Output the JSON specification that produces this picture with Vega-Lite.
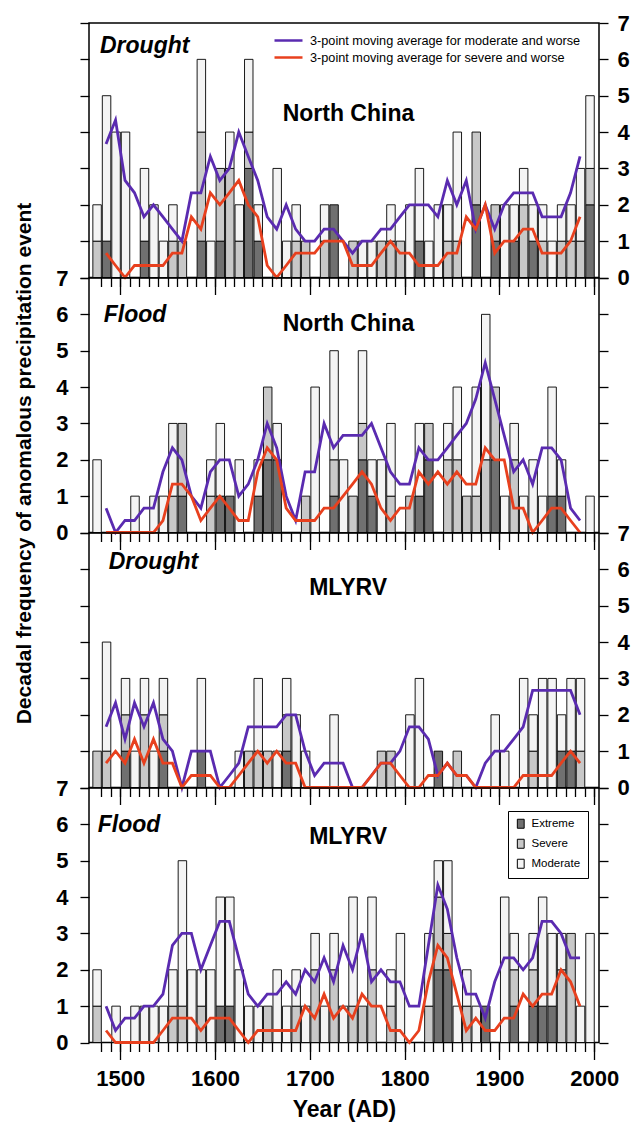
{
"$schema": "https://vega.github.io/schema/vega-lite/v6.json",
"padding": {"left": 12, "top": 11, "right": 3, "bottom": 0},
"spacing": 0,
"bounds": "flush",
"config": {
  "view": {"stroke": "black", "strokeWidth": 1.5},
  "font": "Liberation Sans",
  "axis": {"domain": false, "grid": false, "tickColor": "black", "tickWidth": 1.3, "labelFont": "Liberation Sans", "labelFontWeight": "bold", "labelFontSize": 22, "labelColor": "black", "labelFlush": false, "titleFont": "Liberation Sans", "titleFontWeight": "bold", "titleColor": "black"},
  "legend": {"labelFont": "Liberation Sans", "labelColor": "black"}
},
"resolve": {"scale": {"x": "independent", "y": "independent", "fill": "independent", "stroke": "independent"}, "legend": {"fill": "independent", "stroke": "independent"}},
"datasets": {
"bars": [
{"p":1,"d":1470,"c":"Severe","k":2,"n":1},{"p":1,"d":1470,"c":"Moderate","k":3,"n":1},
{"p":1,"d":1480,"c":"Extreme","k":1,"n":1},{"p":1,"d":1480,"c":"Moderate","k":3,"n":4},
{"p":1,"d":1490,"c":"Moderate","k":3,"n":4},
{"p":1,"d":1500,"c":"Moderate","k":3,"n":4},
{"p":1,"d":1520,"c":"Extreme","k":1,"n":1},{"p":1,"d":1520,"c":"Moderate","k":3,"n":2},
{"p":1,"d":1530,"c":"Moderate","k":3,"n":2},
{"p":1,"d":1540,"c":"Moderate","k":3,"n":1},
{"p":1,"d":1550,"c":"Severe","k":2,"n":1},{"p":1,"d":1550,"c":"Moderate","k":3,"n":1},
{"p":1,"d":1560,"c":"Severe","k":2,"n":1},
{"p":1,"d":1580,"c":"Extreme","k":1,"n":1},{"p":1,"d":1580,"c":"Severe","k":2,"n":3},{"p":1,"d":1580,"c":"Moderate","k":3,"n":2},
{"p":1,"d":1590,"c":"Moderate","k":3,"n":1},
{"p":1,"d":1600,"c":"Extreme","k":1,"n":1},{"p":1,"d":1600,"c":"Severe","k":2,"n":2},
{"p":1,"d":1610,"c":"Severe","k":2,"n":3},{"p":1,"d":1610,"c":"Moderate","k":3,"n":1},
{"p":1,"d":1620,"c":"Severe","k":2,"n":1},{"p":1,"d":1620,"c":"Moderate","k":3,"n":1},
{"p":1,"d":1630,"c":"Extreme","k":1,"n":3},{"p":1,"d":1630,"c":"Severe","k":2,"n":1},{"p":1,"d":1630,"c":"Moderate","k":3,"n":2},
{"p":1,"d":1640,"c":"Extreme","k":1,"n":1},{"p":1,"d":1640,"c":"Moderate","k":3,"n":1},
{"p":1,"d":1660,"c":"Moderate","k":3,"n":3},
{"p":1,"d":1670,"c":"Moderate","k":3,"n":1},
{"p":1,"d":1680,"c":"Severe","k":2,"n":1},{"p":1,"d":1680,"c":"Moderate","k":3,"n":1},
{"p":1,"d":1690,"c":"Severe","k":2,"n":1},
{"p":1,"d":1710,"c":"Severe","k":2,"n":1},{"p":1,"d":1710,"c":"Moderate","k":3,"n":1},
{"p":1,"d":1720,"c":"Extreme","k":1,"n":2},
{"p":1,"d":1740,"c":"Severe","k":2,"n":1},
{"p":1,"d":1750,"c":"Moderate","k":3,"n":1},
{"p":1,"d":1760,"c":"Moderate","k":3,"n":1},
{"p":1,"d":1770,"c":"Severe","k":2,"n":1},
{"p":1,"d":1780,"c":"Severe","k":2,"n":1},{"p":1,"d":1780,"c":"Moderate","k":3,"n":1},
{"p":1,"d":1790,"c":"Severe","k":2,"n":1},
{"p":1,"d":1800,"c":"Moderate","k":3,"n":2},
{"p":1,"d":1810,"c":"Extreme","k":1,"n":1},{"p":1,"d":1810,"c":"Moderate","k":3,"n":2},
{"p":1,"d":1820,"c":"Moderate","k":3,"n":1},
{"p":1,"d":1830,"c":"Moderate","k":3,"n":2},
{"p":1,"d":1840,"c":"Severe","k":2,"n":1},{"p":1,"d":1840,"c":"Moderate","k":3,"n":1},
{"p":1,"d":1850,"c":"Severe","k":2,"n":1},{"p":1,"d":1850,"c":"Moderate","k":3,"n":3},
{"p":1,"d":1870,"c":"Extreme","k":1,"n":2},{"p":1,"d":1870,"c":"Severe","k":2,"n":2},
{"p":1,"d":1890,"c":"Extreme","k":1,"n":1},{"p":1,"d":1890,"c":"Severe","k":2,"n":1},
{"p":1,"d":1900,"c":"Moderate","k":3,"n":2},
{"p":1,"d":1910,"c":"Extreme","k":1,"n":1},{"p":1,"d":1910,"c":"Moderate","k":3,"n":1},
{"p":1,"d":1920,"c":"Severe","k":2,"n":2},{"p":1,"d":1920,"c":"Moderate","k":3,"n":1},
{"p":1,"d":1930,"c":"Extreme","k":1,"n":1},{"p":1,"d":1930,"c":"Moderate","k":3,"n":1},
{"p":1,"d":1940,"c":"Severe","k":2,"n":1},{"p":1,"d":1940,"c":"Moderate","k":3,"n":1},
{"p":1,"d":1950,"c":"Moderate","k":3,"n":1},
{"p":1,"d":1960,"c":"Severe","k":2,"n":1},{"p":1,"d":1960,"c":"Moderate","k":3,"n":1},
{"p":1,"d":1970,"c":"Severe","k":2,"n":1},{"p":1,"d":1970,"c":"Moderate","k":3,"n":1},
{"p":1,"d":1980,"c":"Severe","k":2,"n":1},{"p":1,"d":1980,"c":"Moderate","k":3,"n":2},
{"p":1,"d":1990,"c":"Extreme","k":1,"n":2},{"p":1,"d":1990,"c":"Severe","k":2,"n":1},{"p":1,"d":1990,"c":"Moderate","k":3,"n":2},

{"p":2,"d":1470,"c":"Moderate","k":3,"n":2},
{"p":2,"d":1510,"c":"Moderate","k":3,"n":1},
{"p":2,"d":1530,"c":"Moderate","k":3,"n":1},
{"p":2,"d":1540,"c":"Moderate","k":3,"n":1},
{"p":2,"d":1550,"c":"Severe","k":2,"n":1},{"p":2,"d":1550,"c":"Moderate","k":3,"n":2},
{"p":2,"d":1560,"c":"Extreme","k":1,"n":1},{"p":2,"d":1560,"c":"Severe","k":2,"n":2},
{"p":2,"d":1590,"c":"Severe","k":2,"n":1},{"p":2,"d":1590,"c":"Moderate","k":3,"n":1},
{"p":2,"d":1600,"c":"Extreme","k":1,"n":1},{"p":2,"d":1600,"c":"Moderate","k":3,"n":2},
{"p":2,"d":1610,"c":"Extreme","k":1,"n":1},
{"p":2,"d":1620,"c":"Moderate","k":3,"n":2},
{"p":2,"d":1640,"c":"Extreme","k":1,"n":1},{"p":2,"d":1640,"c":"Moderate","k":3,"n":1},
{"p":2,"d":1650,"c":"Extreme","k":1,"n":2},{"p":2,"d":1650,"c":"Severe","k":2,"n":2},
{"p":2,"d":1660,"c":"Extreme","k":1,"n":2},{"p":2,"d":1660,"c":"Moderate","k":3,"n":1},
{"p":2,"d":1690,"c":"Severe","k":2,"n":1},
{"p":2,"d":1700,"c":"Moderate","k":3,"n":4},
{"p":2,"d":1720,"c":"Extreme","k":1,"n":1},{"p":2,"d":1720,"c":"Severe","k":2,"n":1},{"p":2,"d":1720,"c":"Moderate","k":3,"n":3},
{"p":2,"d":1730,"c":"Moderate","k":3,"n":2},
{"p":2,"d":1740,"c":"Severe","k":2,"n":1},
{"p":2,"d":1750,"c":"Extreme","k":1,"n":2},{"p":2,"d":1750,"c":"Severe","k":2,"n":1},{"p":2,"d":1750,"c":"Moderate","k":3,"n":2},
{"p":2,"d":1760,"c":"Extreme","k":1,"n":1},{"p":2,"d":1760,"c":"Moderate","k":3,"n":1},
{"p":2,"d":1770,"c":"Moderate","k":3,"n":2},
{"p":2,"d":1780,"c":"Severe","k":2,"n":1},{"p":2,"d":1780,"c":"Moderate","k":3,"n":2},
{"p":2,"d":1800,"c":"Severe","k":2,"n":1},
{"p":2,"d":1810,"c":"Extreme","k":1,"n":1},{"p":2,"d":1810,"c":"Moderate","k":3,"n":2},
{"p":2,"d":1820,"c":"Extreme","k":1,"n":2},{"p":2,"d":1820,"c":"Severe","k":2,"n":1},
{"p":2,"d":1840,"c":"Severe","k":2,"n":2},{"p":2,"d":1840,"c":"Moderate","k":3,"n":1},
{"p":2,"d":1850,"c":"Severe","k":2,"n":2},{"p":2,"d":1850,"c":"Moderate","k":3,"n":2},
{"p":2,"d":1860,"c":"Severe","k":2,"n":1},
{"p":2,"d":1870,"c":"Severe","k":2,"n":1},{"p":2,"d":1870,"c":"Moderate","k":3,"n":3},
{"p":2,"d":1880,"c":"Severe","k":2,"n":2},{"p":2,"d":1880,"c":"Moderate","k":3,"n":4},
{"p":2,"d":1890,"c":"Extreme","k":1,"n":2},{"p":2,"d":1890,"c":"Severe","k":2,"n":2},
{"p":2,"d":1900,"c":"Moderate","k":3,"n":1},
{"p":2,"d":1910,"c":"Severe","k":2,"n":2},{"p":2,"d":1910,"c":"Moderate","k":3,"n":1},
{"p":2,"d":1920,"c":"Moderate","k":3,"n":1},
{"p":2,"d":1930,"c":"Moderate","k":3,"n":2},
{"p":2,"d":1940,"c":"Moderate","k":3,"n":1},
{"p":2,"d":1950,"c":"Extreme","k":1,"n":1},{"p":2,"d":1950,"c":"Moderate","k":3,"n":3},
{"p":2,"d":1960,"c":"Extreme","k":1,"n":1},{"p":2,"d":1960,"c":"Moderate","k":3,"n":1},
{"p":2,"d":1990,"c":"Moderate","k":3,"n":1},

{"p":3,"d":1470,"c":"Severe","k":2,"n":1},
{"p":3,"d":1480,"c":"Severe","k":2,"n":1},{"p":3,"d":1480,"c":"Moderate","k":3,"n":3},
{"p":3,"d":1500,"c":"Extreme","k":1,"n":1},{"p":3,"d":1500,"c":"Severe","k":2,"n":1},{"p":3,"d":1500,"c":"Moderate","k":3,"n":1},
{"p":3,"d":1510,"c":"Moderate","k":3,"n":1},
{"p":3,"d":1520,"c":"Severe","k":2,"n":2},{"p":3,"d":1520,"c":"Moderate","k":3,"n":1},
{"p":3,"d":1530,"c":"Moderate","k":3,"n":1},
{"p":3,"d":1540,"c":"Extreme","k":1,"n":1},{"p":3,"d":1540,"c":"Severe","k":2,"n":1},{"p":3,"d":1540,"c":"Moderate","k":3,"n":1},
{"p":3,"d":1580,"c":"Extreme","k":1,"n":1},{"p":3,"d":1580,"c":"Moderate","k":3,"n":2},
{"p":3,"d":1620,"c":"Moderate","k":3,"n":1},
{"p":3,"d":1630,"c":"Severe","k":2,"n":1},
{"p":3,"d":1640,"c":"Severe","k":2,"n":1},{"p":3,"d":1640,"c":"Moderate","k":3,"n":2},
{"p":3,"d":1650,"c":"Severe","k":2,"n":1},
{"p":3,"d":1660,"c":"Moderate","k":3,"n":1},
{"p":3,"d":1670,"c":"Extreme","k":1,"n":1},{"p":3,"d":1670,"c":"Severe","k":2,"n":1},{"p":3,"d":1670,"c":"Moderate","k":3,"n":1},
{"p":3,"d":1680,"c":"Moderate","k":3,"n":2},
{"p":3,"d":1690,"c":"Moderate","k":3,"n":1},
{"p":3,"d":1720,"c":"Moderate","k":3,"n":2},
{"p":3,"d":1770,"c":"Severe","k":2,"n":1},
{"p":3,"d":1780,"c":"Severe","k":2,"n":1},
{"p":3,"d":1800,"c":"Moderate","k":3,"n":2},
{"p":3,"d":1810,"c":"Moderate","k":3,"n":3},
{"p":3,"d":1830,"c":"Extreme","k":1,"n":1},
{"p":3,"d":1850,"c":"Severe","k":2,"n":1},
{"p":3,"d":1890,"c":"Moderate","k":3,"n":2},
{"p":3,"d":1900,"c":"Moderate","k":3,"n":1},
{"p":3,"d":1920,"c":"Moderate","k":3,"n":3},
{"p":3,"d":1930,"c":"Severe","k":2,"n":1},{"p":3,"d":1930,"c":"Moderate","k":3,"n":1},
{"p":3,"d":1940,"c":"Moderate","k":3,"n":3},
{"p":3,"d":1950,"c":"Moderate","k":3,"n":3},
{"p":3,"d":1960,"c":"Extreme","k":1,"n":1},{"p":3,"d":1960,"c":"Moderate","k":3,"n":1},
{"p":3,"d":1970,"c":"Extreme","k":1,"n":1},{"p":3,"d":1970,"c":"Moderate","k":3,"n":2},
{"p":3,"d":1980,"c":"Severe","k":2,"n":1},{"p":3,"d":1980,"c":"Moderate","k":3,"n":2},

{"p":4,"d":1470,"c":"Severe","k":2,"n":1},{"p":4,"d":1470,"c":"Moderate","k":3,"n":1},
{"p":4,"d":1490,"c":"Moderate","k":3,"n":1},
{"p":4,"d":1510,"c":"Moderate","k":3,"n":1},
{"p":4,"d":1520,"c":"Moderate","k":3,"n":1},
{"p":4,"d":1530,"c":"Moderate","k":3,"n":1},
{"p":4,"d":1540,"c":"Moderate","k":3,"n":1},
{"p":4,"d":1550,"c":"Severe","k":2,"n":1},{"p":4,"d":1550,"c":"Moderate","k":3,"n":1},
{"p":4,"d":1560,"c":"Severe","k":2,"n":1},{"p":4,"d":1560,"c":"Moderate","k":3,"n":4},
{"p":4,"d":1570,"c":"Moderate","k":3,"n":2},
{"p":4,"d":1580,"c":"Severe","k":2,"n":1},{"p":4,"d":1580,"c":"Moderate","k":3,"n":1},
{"p":4,"d":1590,"c":"Moderate","k":3,"n":2},
{"p":4,"d":1600,"c":"Extreme","k":1,"n":1},{"p":4,"d":1600,"c":"Moderate","k":3,"n":3},
{"p":4,"d":1610,"c":"Extreme","k":1,"n":1},{"p":4,"d":1610,"c":"Moderate","k":3,"n":3},
{"p":4,"d":1620,"c":"Moderate","k":3,"n":2},
{"p":4,"d":1630,"c":"Moderate","k":3,"n":1},
{"p":4,"d":1640,"c":"Moderate","k":3,"n":1},
{"p":4,"d":1650,"c":"Severe","k":2,"n":1},
{"p":4,"d":1660,"c":"Moderate","k":3,"n":2},
{"p":4,"d":1670,"c":"Moderate","k":3,"n":1},
{"p":4,"d":1680,"c":"Severe","k":2,"n":1},{"p":4,"d":1680,"c":"Moderate","k":3,"n":1},
{"p":4,"d":1690,"c":"Moderate","k":3,"n":1},
{"p":4,"d":1700,"c":"Severe","k":2,"n":2},{"p":4,"d":1700,"c":"Moderate","k":3,"n":1},
{"p":4,"d":1710,"c":"Moderate","k":3,"n":1},
{"p":4,"d":1720,"c":"Severe","k":2,"n":2},{"p":4,"d":1720,"c":"Moderate","k":3,"n":1},
{"p":4,"d":1730,"c":"Moderate","k":3,"n":1},
{"p":4,"d":1740,"c":"Severe","k":2,"n":1},{"p":4,"d":1740,"c":"Moderate","k":3,"n":3},
{"p":4,"d":1750,"c":"Severe","k":2,"n":1},
{"p":4,"d":1760,"c":"Severe","k":2,"n":2},{"p":4,"d":1760,"c":"Moderate","k":3,"n":2},
{"p":4,"d":1780,"c":"Severe","k":2,"n":1},{"p":4,"d":1780,"c":"Moderate","k":3,"n":1},
{"p":4,"d":1790,"c":"Moderate","k":3,"n":3},
{"p":4,"d":1820,"c":"Severe","k":2,"n":1},{"p":4,"d":1820,"c":"Moderate","k":3,"n":2},
{"p":4,"d":1830,"c":"Extreme","k":1,"n":2},{"p":4,"d":1830,"c":"Severe","k":2,"n":2},{"p":4,"d":1830,"c":"Moderate","k":3,"n":1},
{"p":4,"d":1840,"c":"Extreme","k":1,"n":2},{"p":4,"d":1840,"c":"Severe","k":2,"n":1},{"p":4,"d":1840,"c":"Moderate","k":3,"n":2},
{"p":4,"d":1850,"c":"Moderate","k":3,"n":1},
{"p":4,"d":1860,"c":"Severe","k":2,"n":1},{"p":4,"d":1860,"c":"Moderate","k":3,"n":1},
{"p":4,"d":1870,"c":"Moderate","k":3,"n":1},
{"p":4,"d":1880,"c":"Extreme","k":1,"n":1},
{"p":4,"d":1900,"c":"Moderate","k":3,"n":4},
{"p":4,"d":1910,"c":"Extreme","k":1,"n":1},{"p":4,"d":1910,"c":"Severe","k":2,"n":1},{"p":4,"d":1910,"c":"Moderate","k":3,"n":1},
{"p":4,"d":1930,"c":"Extreme","k":1,"n":1},{"p":4,"d":1930,"c":"Severe","k":2,"n":1},{"p":4,"d":1930,"c":"Moderate","k":3,"n":1},
{"p":4,"d":1940,"c":"Extreme","k":1,"n":1},{"p":4,"d":1940,"c":"Moderate","k":3,"n":3},
{"p":4,"d":1950,"c":"Extreme","k":1,"n":1},{"p":4,"d":1950,"c":"Moderate","k":3,"n":2},
{"p":4,"d":1960,"c":"Severe","k":2,"n":2},{"p":4,"d":1960,"c":"Moderate","k":3,"n":1},
{"p":4,"d":1970,"c":"Severe","k":2,"n":3},
{"p":4,"d":1980,"c":"Moderate","k":3,"n":1},
{"p":4,"d":1990,"c":"Moderate","k":3,"n":3}
],
"lines": [
{"p":1,"t":"m","d":1485,"v":3.67},{"p":1,"t":"m","d":1495,"v":4.33},{"p":1,"t":"m","d":1505,"v":2.67},{"p":1,"t":"m","d":1515,"v":2.33},{"p":1,"t":"m","d":1525,"v":1.67},{"p":1,"t":"m","d":1535,"v":2.0},{"p":1,"t":"m","d":1545,"v":1.67},{"p":1,"t":"m","d":1555,"v":1.33},{"p":1,"t":"m","d":1565,"v":1.0},{"p":1,"t":"m","d":1575,"v":2.33},{"p":1,"t":"m","d":1585,"v":2.33},{"p":1,"t":"m","d":1595,"v":3.33},{"p":1,"t":"m","d":1605,"v":2.67},{"p":1,"t":"m","d":1615,"v":3.0},{"p":1,"t":"m","d":1625,"v":4.0},{"p":1,"t":"m","d":1635,"v":3.33},{"p":1,"t":"m","d":1645,"v":2.67},{"p":1,"t":"m","d":1655,"v":1.67},{"p":1,"t":"m","d":1665,"v":1.33},{"p":1,"t":"m","d":1675,"v":2.0},{"p":1,"t":"m","d":1685,"v":1.33},{"p":1,"t":"m","d":1695,"v":1.0},{"p":1,"t":"m","d":1705,"v":1.0},{"p":1,"t":"m","d":1715,"v":1.33},{"p":1,"t":"m","d":1725,"v":1.33},{"p":1,"t":"m","d":1735,"v":1.0},{"p":1,"t":"m","d":1745,"v":0.67},{"p":1,"t":"m","d":1755,"v":1.0},{"p":1,"t":"m","d":1765,"v":1.0},{"p":1,"t":"m","d":1775,"v":1.33},{"p":1,"t":"m","d":1785,"v":1.33},{"p":1,"t":"m","d":1795,"v":1.67},{"p":1,"t":"m","d":1805,"v":2.0},{"p":1,"t":"m","d":1815,"v":2.0},{"p":1,"t":"m","d":1825,"v":2.0},{"p":1,"t":"m","d":1835,"v":1.67},{"p":1,"t":"m","d":1845,"v":2.67},{"p":1,"t":"m","d":1855,"v":2.0},{"p":1,"t":"m","d":1865,"v":2.67},{"p":1,"t":"m","d":1875,"v":1.33},{"p":1,"t":"m","d":1885,"v":2.0},{"p":1,"t":"m","d":1895,"v":1.33},{"p":1,"t":"m","d":1905,"v":2.0},{"p":1,"t":"m","d":1915,"v":2.33},{"p":1,"t":"m","d":1925,"v":2.33},{"p":1,"t":"m","d":1935,"v":2.33},{"p":1,"t":"m","d":1945,"v":1.67},{"p":1,"t":"m","d":1955,"v":1.67},{"p":1,"t":"m","d":1965,"v":1.67},{"p":1,"t":"m","d":1975,"v":2.33},{"p":1,"t":"m","d":1985,"v":3.33},
{"p":1,"t":"s","d":1485,"v":0.67},{"p":1,"t":"s","d":1495,"v":0.33},{"p":1,"t":"s","d":1505,"v":0},{"p":1,"t":"s","d":1515,"v":0.33},{"p":1,"t":"s","d":1525,"v":0.33},{"p":1,"t":"s","d":1535,"v":0.33},{"p":1,"t":"s","d":1545,"v":0.33},{"p":1,"t":"s","d":1555,"v":0.67},{"p":1,"t":"s","d":1565,"v":0.67},{"p":1,"t":"s","d":1575,"v":1.67},{"p":1,"t":"s","d":1585,"v":1.33},{"p":1,"t":"s","d":1595,"v":2.33},{"p":1,"t":"s","d":1605,"v":2.0},{"p":1,"t":"s","d":1615,"v":2.33},{"p":1,"t":"s","d":1625,"v":2.67},{"p":1,"t":"s","d":1635,"v":2.0},{"p":1,"t":"s","d":1645,"v":1.67},{"p":1,"t":"s","d":1655,"v":0.33},{"p":1,"t":"s","d":1665,"v":0},{"p":1,"t":"s","d":1675,"v":0.33},{"p":1,"t":"s","d":1685,"v":0.67},{"p":1,"t":"s","d":1695,"v":0.67},{"p":1,"t":"s","d":1705,"v":0.67},{"p":1,"t":"s","d":1715,"v":1.0},{"p":1,"t":"s","d":1725,"v":1.0},{"p":1,"t":"s","d":1735,"v":1.0},{"p":1,"t":"s","d":1745,"v":0.33},{"p":1,"t":"s","d":1755,"v":0.33},{"p":1,"t":"s","d":1765,"v":0.33},{"p":1,"t":"s","d":1775,"v":0.67},{"p":1,"t":"s","d":1785,"v":1.0},{"p":1,"t":"s","d":1795,"v":0.67},{"p":1,"t":"s","d":1805,"v":0.67},{"p":1,"t":"s","d":1815,"v":0.33},{"p":1,"t":"s","d":1825,"v":0.33},{"p":1,"t":"s","d":1835,"v":0.33},{"p":1,"t":"s","d":1845,"v":0.67},{"p":1,"t":"s","d":1855,"v":0.67},{"p":1,"t":"s","d":1865,"v":1.67},{"p":1,"t":"s","d":1875,"v":1.33},{"p":1,"t":"s","d":1885,"v":2.0},{"p":1,"t":"s","d":1895,"v":0.67},{"p":1,"t":"s","d":1905,"v":1.0},{"p":1,"t":"s","d":1915,"v":1.0},{"p":1,"t":"s","d":1925,"v":1.33},{"p":1,"t":"s","d":1935,"v":1.33},{"p":1,"t":"s","d":1945,"v":0.67},{"p":1,"t":"s","d":1955,"v":0.67},{"p":1,"t":"s","d":1965,"v":0.67},{"p":1,"t":"s","d":1975,"v":1.0},{"p":1,"t":"s","d":1985,"v":1.67},
{"p":2,"t":"m","d":1485,"v":0.67},{"p":2,"t":"m","d":1495,"v":0},{"p":2,"t":"m","d":1505,"v":0.33},{"p":2,"t":"m","d":1515,"v":0.33},{"p":2,"t":"m","d":1525,"v":0.67},{"p":2,"t":"m","d":1535,"v":0.67},{"p":2,"t":"m","d":1545,"v":1.67},{"p":2,"t":"m","d":1555,"v":2.33},{"p":2,"t":"m","d":1565,"v":2.0},{"p":2,"t":"m","d":1575,"v":1.0},{"p":2,"t":"m","d":1585,"v":0.67},{"p":2,"t":"m","d":1595,"v":1.67},{"p":2,"t":"m","d":1605,"v":2.0},{"p":2,"t":"m","d":1615,"v":2.0},{"p":2,"t":"m","d":1625,"v":1.0},{"p":2,"t":"m","d":1635,"v":1.33},{"p":2,"t":"m","d":1645,"v":2.0},{"p":2,"t":"m","d":1655,"v":3.0},{"p":2,"t":"m","d":1665,"v":2.33},{"p":2,"t":"m","d":1675,"v":1.0},{"p":2,"t":"m","d":1685,"v":0.33},{"p":2,"t":"m","d":1695,"v":1.67},{"p":2,"t":"m","d":1705,"v":1.67},{"p":2,"t":"m","d":1715,"v":3.0},{"p":2,"t":"m","d":1725,"v":2.33},{"p":2,"t":"m","d":1735,"v":2.67},{"p":2,"t":"m","d":1745,"v":2.67},{"p":2,"t":"m","d":1755,"v":2.67},{"p":2,"t":"m","d":1765,"v":3.0},{"p":2,"t":"m","d":1775,"v":2.33},{"p":2,"t":"m","d":1785,"v":1.67},{"p":2,"t":"m","d":1795,"v":1.33},{"p":2,"t":"m","d":1805,"v":1.33},{"p":2,"t":"m","d":1815,"v":2.33},{"p":2,"t":"m","d":1825,"v":2.0},{"p":2,"t":"m","d":1835,"v":2.0},{"p":2,"t":"m","d":1845,"v":2.33},{"p":2,"t":"m","d":1855,"v":2.67},{"p":2,"t":"m","d":1865,"v":3.0},{"p":2,"t":"m","d":1875,"v":3.67},{"p":2,"t":"m","d":1885,"v":4.67},{"p":2,"t":"m","d":1895,"v":3.67},{"p":2,"t":"m","d":1905,"v":2.67},{"p":2,"t":"m","d":1915,"v":1.67},{"p":2,"t":"m","d":1925,"v":2.0},{"p":2,"t":"m","d":1935,"v":1.33},{"p":2,"t":"m","d":1945,"v":2.33},{"p":2,"t":"m","d":1955,"v":2.33},{"p":2,"t":"m","d":1965,"v":2.0},{"p":2,"t":"m","d":1975,"v":0.67},{"p":2,"t":"m","d":1985,"v":0.33},
{"p":2,"t":"s","d":1485,"v":0},{"p":2,"t":"s","d":1495,"v":0},{"p":2,"t":"s","d":1505,"v":0},{"p":2,"t":"s","d":1515,"v":0},{"p":2,"t":"s","d":1525,"v":0},{"p":2,"t":"s","d":1535,"v":0},{"p":2,"t":"s","d":1545,"v":0.33},{"p":2,"t":"s","d":1555,"v":1.33},{"p":2,"t":"s","d":1565,"v":1.33},{"p":2,"t":"s","d":1575,"v":1.0},{"p":2,"t":"s","d":1585,"v":0.33},{"p":2,"t":"s","d":1595,"v":0.67},{"p":2,"t":"s","d":1605,"v":1.0},{"p":2,"t":"s","d":1615,"v":0.67},{"p":2,"t":"s","d":1625,"v":0.33},{"p":2,"t":"s","d":1635,"v":0.33},{"p":2,"t":"s","d":1645,"v":1.67},{"p":2,"t":"s","d":1655,"v":2.33},{"p":2,"t":"s","d":1665,"v":2.0},{"p":2,"t":"s","d":1675,"v":0.67},{"p":2,"t":"s","d":1685,"v":0.33},{"p":2,"t":"s","d":1695,"v":0.33},{"p":2,"t":"s","d":1705,"v":0.33},{"p":2,"t":"s","d":1715,"v":0.67},{"p":2,"t":"s","d":1725,"v":0.67},{"p":2,"t":"s","d":1735,"v":1.0},{"p":2,"t":"s","d":1745,"v":1.33},{"p":2,"t":"s","d":1755,"v":1.67},{"p":2,"t":"s","d":1765,"v":1.33},{"p":2,"t":"s","d":1775,"v":0.67},{"p":2,"t":"s","d":1785,"v":0.33},{"p":2,"t":"s","d":1795,"v":0.67},{"p":2,"t":"s","d":1805,"v":0.67},{"p":2,"t":"s","d":1815,"v":1.67},{"p":2,"t":"s","d":1825,"v":1.33},{"p":2,"t":"s","d":1835,"v":1.67},{"p":2,"t":"s","d":1845,"v":1.33},{"p":2,"t":"s","d":1855,"v":1.67},{"p":2,"t":"s","d":1865,"v":1.33},{"p":2,"t":"s","d":1875,"v":1.33},{"p":2,"t":"s","d":1885,"v":2.33},{"p":2,"t":"s","d":1895,"v":2.0},{"p":2,"t":"s","d":1905,"v":2.0},{"p":2,"t":"s","d":1915,"v":0.67},{"p":2,"t":"s","d":1925,"v":0.67},{"p":2,"t":"s","d":1935,"v":0},{"p":2,"t":"s","d":1945,"v":0.33},{"p":2,"t":"s","d":1955,"v":0.67},{"p":2,"t":"s","d":1965,"v":0.67},{"p":2,"t":"s","d":1975,"v":0.33},{"p":2,"t":"s","d":1985,"v":0},
{"p":3,"t":"m","d":1485,"v":1.67},{"p":3,"t":"m","d":1495,"v":2.33},{"p":3,"t":"m","d":1505,"v":1.33},{"p":3,"t":"m","d":1515,"v":2.33},{"p":3,"t":"m","d":1525,"v":1.67},{"p":3,"t":"m","d":1535,"v":2.33},{"p":3,"t":"m","d":1545,"v":1.33},{"p":3,"t":"m","d":1555,"v":1.0},{"p":3,"t":"m","d":1565,"v":0},{"p":3,"t":"m","d":1575,"v":1.0},{"p":3,"t":"m","d":1585,"v":1.0},{"p":3,"t":"m","d":1595,"v":1.0},{"p":3,"t":"m","d":1605,"v":0},{"p":3,"t":"m","d":1615,"v":0.33},{"p":3,"t":"m","d":1625,"v":0.67},{"p":3,"t":"m","d":1635,"v":1.67},{"p":3,"t":"m","d":1645,"v":1.67},{"p":3,"t":"m","d":1655,"v":1.67},{"p":3,"t":"m","d":1665,"v":1.67},{"p":3,"t":"m","d":1675,"v":2.0},{"p":3,"t":"m","d":1685,"v":2.0},{"p":3,"t":"m","d":1695,"v":1.0},{"p":3,"t":"m","d":1705,"v":0.33},{"p":3,"t":"m","d":1715,"v":0.67},{"p":3,"t":"m","d":1725,"v":0.67},{"p":3,"t":"m","d":1735,"v":0.67},{"p":3,"t":"m","d":1745,"v":0},{"p":3,"t":"m","d":1755,"v":0},{"p":3,"t":"m","d":1765,"v":0.33},{"p":3,"t":"m","d":1775,"v":0.67},{"p":3,"t":"m","d":1785,"v":0.67},{"p":3,"t":"m","d":1795,"v":1.0},{"p":3,"t":"m","d":1805,"v":1.67},{"p":3,"t":"m","d":1815,"v":1.67},{"p":3,"t":"m","d":1825,"v":1.33},{"p":3,"t":"m","d":1835,"v":0.33},{"p":3,"t":"m","d":1845,"v":0.67},{"p":3,"t":"m","d":1855,"v":0.33},{"p":3,"t":"m","d":1865,"v":0.33},{"p":3,"t":"m","d":1875,"v":0},{"p":3,"t":"m","d":1885,"v":0.67},{"p":3,"t":"m","d":1895,"v":1.0},{"p":3,"t":"m","d":1905,"v":1.0},{"p":3,"t":"m","d":1915,"v":1.33},{"p":3,"t":"m","d":1925,"v":1.67},{"p":3,"t":"m","d":1935,"v":2.67},{"p":3,"t":"m","d":1945,"v":2.67},{"p":3,"t":"m","d":1955,"v":2.67},{"p":3,"t":"m","d":1965,"v":2.67},{"p":3,"t":"m","d":1975,"v":2.67},{"p":3,"t":"m","d":1985,"v":2.0},
{"p":3,"t":"s","d":1485,"v":0.67},{"p":3,"t":"s","d":1495,"v":1.0},{"p":3,"t":"s","d":1505,"v":0.67},{"p":3,"t":"s","d":1515,"v":1.33},{"p":3,"t":"s","d":1525,"v":0.67},{"p":3,"t":"s","d":1535,"v":1.33},{"p":3,"t":"s","d":1545,"v":0.67},{"p":3,"t":"s","d":1555,"v":0.67},{"p":3,"t":"s","d":1565,"v":0},{"p":3,"t":"s","d":1575,"v":0.33},{"p":3,"t":"s","d":1585,"v":0.33},{"p":3,"t":"s","d":1595,"v":0.33},{"p":3,"t":"s","d":1605,"v":0},{"p":3,"t":"s","d":1615,"v":0},{"p":3,"t":"s","d":1625,"v":0.33},{"p":3,"t":"s","d":1635,"v":0.67},{"p":3,"t":"s","d":1645,"v":1.0},{"p":3,"t":"s","d":1655,"v":0.67},{"p":3,"t":"s","d":1665,"v":1.0},{"p":3,"t":"s","d":1675,"v":0.67},{"p":3,"t":"s","d":1685,"v":0.67},{"p":3,"t":"s","d":1695,"v":0},{"p":3,"t":"s","d":1705,"v":0},{"p":3,"t":"s","d":1715,"v":0},{"p":3,"t":"s","d":1725,"v":0},{"p":3,"t":"s","d":1735,"v":0},{"p":3,"t":"s","d":1745,"v":0},{"p":3,"t":"s","d":1755,"v":0},{"p":3,"t":"s","d":1765,"v":0.33},{"p":3,"t":"s","d":1775,"v":0.67},{"p":3,"t":"s","d":1785,"v":0.67},{"p":3,"t":"s","d":1795,"v":0.33},{"p":3,"t":"s","d":1805,"v":0},{"p":3,"t":"s","d":1815,"v":0},{"p":3,"t":"s","d":1825,"v":0.33},{"p":3,"t":"s","d":1835,"v":0.33},{"p":3,"t":"s","d":1845,"v":0.67},{"p":3,"t":"s","d":1855,"v":0.33},{"p":3,"t":"s","d":1865,"v":0.33},{"p":3,"t":"s","d":1875,"v":0},{"p":3,"t":"s","d":1885,"v":0},{"p":3,"t":"s","d":1895,"v":0},{"p":3,"t":"s","d":1905,"v":0},{"p":3,"t":"s","d":1915,"v":0},{"p":3,"t":"s","d":1925,"v":0.33},{"p":3,"t":"s","d":1935,"v":0.33},{"p":3,"t":"s","d":1945,"v":0.33},{"p":3,"t":"s","d":1955,"v":0.33},{"p":3,"t":"s","d":1965,"v":0.67},{"p":3,"t":"s","d":1975,"v":1.0},{"p":3,"t":"s","d":1985,"v":0.67},
{"p":4,"t":"m","d":1485,"v":1.0},{"p":4,"t":"m","d":1495,"v":0.33},{"p":4,"t":"m","d":1505,"v":0.67},{"p":4,"t":"m","d":1515,"v":0.67},{"p":4,"t":"m","d":1525,"v":1.0},{"p":4,"t":"m","d":1535,"v":1.0},{"p":4,"t":"m","d":1545,"v":1.33},{"p":4,"t":"m","d":1555,"v":2.67},{"p":4,"t":"m","d":1565,"v":3.0},{"p":4,"t":"m","d":1575,"v":3.0},{"p":4,"t":"m","d":1585,"v":2.0},{"p":4,"t":"m","d":1595,"v":2.67},{"p":4,"t":"m","d":1605,"v":3.33},{"p":4,"t":"m","d":1615,"v":3.33},{"p":4,"t":"m","d":1625,"v":2.33},{"p":4,"t":"m","d":1635,"v":1.33},{"p":4,"t":"m","d":1645,"v":1.0},{"p":4,"t":"m","d":1655,"v":1.33},{"p":4,"t":"m","d":1665,"v":1.33},{"p":4,"t":"m","d":1675,"v":1.67},{"p":4,"t":"m","d":1685,"v":1.33},{"p":4,"t":"m","d":1695,"v":2.0},{"p":4,"t":"m","d":1705,"v":1.67},{"p":4,"t":"m","d":1715,"v":2.33},{"p":4,"t":"m","d":1725,"v":1.67},{"p":4,"t":"m","d":1735,"v":2.67},{"p":4,"t":"m","d":1745,"v":2.0},{"p":4,"t":"m","d":1755,"v":3.0},{"p":4,"t":"m","d":1765,"v":1.67},{"p":4,"t":"m","d":1775,"v":2.0},{"p":4,"t":"m","d":1785,"v":1.67},{"p":4,"t":"m","d":1795,"v":1.67},{"p":4,"t":"m","d":1805,"v":1.0},{"p":4,"t":"m","d":1815,"v":1.0},{"p":4,"t":"m","d":1825,"v":2.67},{"p":4,"t":"m","d":1835,"v":4.33},{"p":4,"t":"m","d":1845,"v":3.67},{"p":4,"t":"m","d":1855,"v":2.33},{"p":4,"t":"m","d":1865,"v":1.33},{"p":4,"t":"m","d":1875,"v":1.33},{"p":4,"t":"m","d":1885,"v":0.67},{"p":4,"t":"m","d":1895,"v":1.67},{"p":4,"t":"m","d":1905,"v":2.33},{"p":4,"t":"m","d":1915,"v":2.33},{"p":4,"t":"m","d":1925,"v":2.0},{"p":4,"t":"m","d":1935,"v":2.33},{"p":4,"t":"m","d":1945,"v":3.33},{"p":4,"t":"m","d":1955,"v":3.33},{"p":4,"t":"m","d":1965,"v":3.0},{"p":4,"t":"m","d":1975,"v":2.33},{"p":4,"t":"m","d":1985,"v":2.33},
{"p":4,"t":"s","d":1485,"v":0.33},{"p":4,"t":"s","d":1495,"v":0},{"p":4,"t":"s","d":1505,"v":0},{"p":4,"t":"s","d":1515,"v":0},{"p":4,"t":"s","d":1525,"v":0},{"p":4,"t":"s","d":1535,"v":0},{"p":4,"t":"s","d":1545,"v":0.33},{"p":4,"t":"s","d":1555,"v":0.67},{"p":4,"t":"s","d":1565,"v":0.67},{"p":4,"t":"s","d":1575,"v":0.67},{"p":4,"t":"s","d":1585,"v":0.33},{"p":4,"t":"s","d":1595,"v":0.67},{"p":4,"t":"s","d":1605,"v":0.67},{"p":4,"t":"s","d":1615,"v":0.67},{"p":4,"t":"s","d":1625,"v":0.33},{"p":4,"t":"s","d":1635,"v":0},{"p":4,"t":"s","d":1645,"v":0.33},{"p":4,"t":"s","d":1655,"v":0.33},{"p":4,"t":"s","d":1665,"v":0.33},{"p":4,"t":"s","d":1675,"v":0.33},{"p":4,"t":"s","d":1685,"v":0.33},{"p":4,"t":"s","d":1695,"v":1.0},{"p":4,"t":"s","d":1705,"v":0.67},{"p":4,"t":"s","d":1715,"v":1.33},{"p":4,"t":"s","d":1725,"v":0.67},{"p":4,"t":"s","d":1735,"v":1.0},{"p":4,"t":"s","d":1745,"v":0.67},{"p":4,"t":"s","d":1755,"v":1.33},{"p":4,"t":"s","d":1765,"v":1.0},{"p":4,"t":"s","d":1775,"v":1.0},{"p":4,"t":"s","d":1785,"v":0.33},{"p":4,"t":"s","d":1795,"v":0.33},{"p":4,"t":"s","d":1805,"v":0},{"p":4,"t":"s","d":1815,"v":0.33},{"p":4,"t":"s","d":1825,"v":1.67},{"p":4,"t":"s","d":1835,"v":2.67},{"p":4,"t":"s","d":1845,"v":2.33},{"p":4,"t":"s","d":1855,"v":1.33},{"p":4,"t":"s","d":1865,"v":0.33},{"p":4,"t":"s","d":1875,"v":0.67},{"p":4,"t":"s","d":1885,"v":0.33},{"p":4,"t":"s","d":1895,"v":0.33},{"p":4,"t":"s","d":1905,"v":0.67},{"p":4,"t":"s","d":1915,"v":0.67},{"p":4,"t":"s","d":1925,"v":1.33},{"p":4,"t":"s","d":1935,"v":1.0},{"p":4,"t":"s","d":1945,"v":1.33},{"p":4,"t":"s","d":1955,"v":1.33},{"p":4,"t":"s","d":1965,"v":2.0},{"p":4,"t":"s","d":1975,"v":1.67},{"p":4,"t":"s","d":1985,"v":1.0}
]
},
"vconcat": [
{
 "width": 510, "height": 254.5,
 "resolve": {"axis": {"x": "independent", "y": "independent"}},
 "layer": [
  {"data": {"name": "bars"}, "transform": [{"filter": "datum.p === 1"}],
   "mark": {"type": "bar", "stroke": "black", "strokeWidth": 0.9},
   "encoding": {
    "x": {"field": "d", "type": "quantitative", "bin": {"step": 10, "extent": [1470, 2000]}, "scale": {"domain": [1467, 2005], "nice": false, "zero": false}, "axis": {"orient": "bottom", "values": [1480,1490,1500,1510,1520,1530,1540,1550,1560,1570,1580,1590,1600,1610,1620,1630,1640,1650,1660,1670,1680,1690,1700,1710,1720,1730,1740,1750,1760,1770,1780,1790,1800,1810,1820,1830,1840,1850,1860,1870,1880,1890,1900,1910,1920,1930,1940,1950,1960,1970,1980,1990,2000], "tickSize": 9, "labels": false, "title": null}},
    "y": {"field": "n", "type": "quantitative", "stack": "zero", "scale": {"domain": [0, 7], "nice": false}, "axis": {"orient": "left", "values": [0,1,2,3,4,5,6,7], "tickSize": 9, "labels": false, "title": null}},
    "fill": {"field": "c", "type": "nominal", "scale": {"domain": ["Extreme", "Severe", "Moderate"], "range": ["#707070", "#c8c8c8", "#f4f4f4"]}, "legend": null},
    "order": {"field": "k", "type": "quantitative"}
   }},
  {"data": {"name": "lines"}, "transform": [{"filter": "datum.p === 1"}],
   "mark": {"type": "line", "strokeWidth": 2.8},
   "encoding": {
    "x": {"field": "d", "type": "quantitative", "scale": {"domain": [1467, 2005], "nice": false, "zero": false}, "axis": {"orient": "bottom", "values": [1500,1600,1700,1800,1900,2000], "tickSize": 17, "labels": false, "title": null}},
    "y": {"field": "v", "type": "quantitative", "scale": {"domain": [0, 7], "nice": false}, "axis": {"orient": "right", "values": [0,1,2,3,4,5,6,7], "tickSize": 9, "labels": true, "labelPadding": 9, "title": null}},
    "stroke": {"field": "t", "type": "nominal", "scale": {"domain": ["m", "s"], "range": ["#5a2bb0", "#e8401e"]},
      "legend": {"orient": "none", "legendX": 190, "legendY": 8, "title": null, "symbolType": "M-1.75,0L1.75,0", "symbolSize": 256, "symbolStrokeWidth": 2.5, "labelFontSize": 12.7, "labelLimit": 0, "labelOffset": 12, "rowPadding": 0, "padding": 0,
        "labelExpr": "datum.label === 'm' ? '3-point moving average for moderate and worse' : '3-point moving average for severe and worse'"}}
   }},
  {"data": {"values": [{"label": "Drought"}]},
   "mark": {"type": "text", "font": "Liberation Sans", "fontSize": 23, "fontWeight": "bold", "fontStyle": "italic", "align": "left", "baseline": "alphabetic", "color": "black"},
   "encoding": {"text": {"field": "label", "type": "nominal"}, "x": {"datum": 1478.6, "type": "quantitative", "scale": {"domain": [1467, 2005], "nice": false, "zero": false}, "axis": null}, "y": {"datum": 6.18, "type": "quantitative", "scale": {"domain": [0, 7], "nice": false}, "axis": null}}},
  {"data": {"values": [{"label": "North China"}]},
   "mark": {"type": "text", "font": "Liberation Sans", "fontSize": 23, "fontWeight": "bold", "align": "center", "baseline": "alphabetic", "color": "black"},
   "encoding": {"text": {"field": "label", "type": "nominal"}, "x": {"datum": 1740.7, "type": "quantitative", "scale": {"domain": [1467, 2005], "nice": false, "zero": false}, "axis": null}, "y": {"datum": 4.3, "type": "quantitative", "scale": {"domain": [0, 7], "nice": false}, "axis": null}}}
 ]
},
{
 "width": 510, "height": 254.5,
 "resolve": {"axis": {"x": "independent", "y": "independent"}},
 "layer": [
  {"data": {"name": "bars"}, "transform": [{"filter": "datum.p === 2"}],
   "mark": {"type": "bar", "stroke": "black", "strokeWidth": 0.9},
   "encoding": {
    "x": {"field": "d", "type": "quantitative", "bin": {"step": 10, "extent": [1470, 2000]}, "scale": {"domain": [1467, 2005], "nice": false, "zero": false}, "axis": {"orient": "bottom", "values": [1480,1490,1500,1510,1520,1530,1540,1550,1560,1570,1580,1590,1600,1610,1620,1630,1640,1650,1660,1670,1680,1690,1700,1710,1720,1730,1740,1750,1760,1770,1780,1790,1800,1810,1820,1830,1840,1850,1860,1870,1880,1890,1900,1910,1920,1930,1940,1950,1960,1970,1980,1990,2000], "tickSize": 9, "labels": false, "title": null}},
    "y": {"field": "n", "type": "quantitative", "stack": "zero", "scale": {"domain": [0, 7], "nice": false}, "axis": {"orient": "left", "values": [0,1,2,3,4,5,6,7], "tickSize": 9, "labels": true, "labelPadding": 12, "title": "Decadal frequency of anomalous precipitation event", "titleFontSize": 21, "titleX": -65, "titleY": 185, "titleAngle": 270, "titleAlign": "center", "titleBaseline": "middle"}},
    "fill": {"field": "c", "type": "nominal", "scale": {"domain": ["Extreme", "Severe", "Moderate"], "range": ["#707070", "#c8c8c8", "#f4f4f4"]}, "legend": null},
    "order": {"field": "k", "type": "quantitative"}
   }},
  {"data": {"name": "lines"}, "transform": [{"filter": "datum.p === 2"}],
   "mark": {"type": "line", "strokeWidth": 2.8},
   "encoding": {
    "x": {"field": "d", "type": "quantitative", "scale": {"domain": [1467, 2005], "nice": false, "zero": false}, "axis": {"orient": "bottom", "values": [1500,1600,1700,1800,1900,2000], "tickSize": 17, "labels": false, "title": null}},
    "y": {"field": "v", "type": "quantitative", "scale": {"domain": [0, 7], "nice": false}, "axis": {"orient": "right", "values": [0,1,2,3,4,5,6,7], "tickSize": 9, "labels": false, "title": null}},
    "stroke": {"field": "t", "type": "nominal", "scale": {"domain": ["m", "s"], "range": ["#5a2bb0", "#e8401e"]}, "legend": null}
   }},
  {"data": {"values": [{"label": "Flood"}]},
   "mark": {"type": "text", "font": "Liberation Sans", "fontSize": 23, "fontWeight": "bold", "fontStyle": "italic", "align": "left", "baseline": "alphabetic", "color": "black"},
   "encoding": {"text": {"field": "label", "type": "nominal"}, "x": {"datum": 1482.5, "type": "quantitative", "scale": {"domain": [1467, 2005], "nice": false, "zero": false}, "axis": null}, "y": {"datum": 5.8, "type": "quantitative", "scale": {"domain": [0, 7], "nice": false}, "axis": null}}},
  {"data": {"values": [{"label": "North China"}]},
   "mark": {"type": "text", "font": "Liberation Sans", "fontSize": 23, "fontWeight": "bold", "align": "center", "baseline": "alphabetic", "color": "black"},
   "encoding": {"text": {"field": "label", "type": "nominal"}, "x": {"datum": 1740.7, "type": "quantitative", "scale": {"domain": [1467, 2005], "nice": false, "zero": false}, "axis": null}, "y": {"datum": 5.54, "type": "quantitative", "scale": {"domain": [0, 7], "nice": false}, "axis": null}}}
 ]
},
{
 "width": 510, "height": 254.5,
 "resolve": {"axis": {"x": "independent", "y": "independent"}},
 "layer": [
  {"data": {"name": "bars"}, "transform": [{"filter": "datum.p === 3"}],
   "mark": {"type": "bar", "stroke": "black", "strokeWidth": 0.9},
   "encoding": {
    "x": {"field": "d", "type": "quantitative", "bin": {"step": 10, "extent": [1470, 2000]}, "scale": {"domain": [1467, 2005], "nice": false, "zero": false}, "axis": {"orient": "bottom", "values": [1480,1490,1500,1510,1520,1530,1540,1550,1560,1570,1580,1590,1600,1610,1620,1630,1640,1650,1660,1670,1680,1690,1700,1710,1720,1730,1740,1750,1760,1770,1780,1790,1800,1810,1820,1830,1840,1850,1860,1870,1880,1890,1900,1910,1920,1930,1940,1950,1960,1970,1980,1990,2000], "tickSize": 9, "labels": false, "title": null}},
    "y": {"field": "n", "type": "quantitative", "stack": "zero", "scale": {"domain": [0, 7], "nice": false}, "axis": {"orient": "left", "values": [0,1,2,3,4,5,6,7], "tickSize": 9, "labels": false, "title": null}},
    "fill": {"field": "c", "type": "nominal", "scale": {"domain": ["Extreme", "Severe", "Moderate"], "range": ["#707070", "#c8c8c8", "#f4f4f4"]}, "legend": null},
    "order": {"field": "k", "type": "quantitative"}
   }},
  {"data": {"name": "lines"}, "transform": [{"filter": "datum.p === 3"}],
   "mark": {"type": "line", "strokeWidth": 2.8},
   "encoding": {
    "x": {"field": "d", "type": "quantitative", "scale": {"domain": [1467, 2005], "nice": false, "zero": false}, "axis": {"orient": "bottom", "values": [1500,1600,1700,1800,1900,2000], "tickSize": 17, "labels": false, "title": null}},
    "y": {"field": "v", "type": "quantitative", "scale": {"domain": [0, 7], "nice": false}, "axis": {"orient": "right", "values": [0,1,2,3,4,5,6,7], "tickSize": 9, "labels": true, "labelPadding": 9, "title": null}},
    "stroke": {"field": "t", "type": "nominal", "scale": {"domain": ["m", "s"], "range": ["#5a2bb0", "#e8401e"]}, "legend": null}
   }},
  {"data": {"values": [{"label": "Drought"}]},
   "mark": {"type": "text", "font": "Liberation Sans", "fontSize": 23, "fontWeight": "bold", "fontStyle": "italic", "align": "left", "baseline": "alphabetic", "color": "black"},
   "encoding": {"text": {"field": "label", "type": "nominal"}, "x": {"datum": 1487.8, "type": "quantitative", "scale": {"domain": [1467, 2005], "nice": false, "zero": false}, "axis": null}, "y": {"datum": 6.0, "type": "quantitative", "scale": {"domain": [0, 7], "nice": false}, "axis": null}}},
  {"data": {"values": [{"label": "MLYRV"}]},
   "mark": {"type": "text", "font": "Liberation Sans", "fontSize": 23, "fontWeight": "bold", "align": "center", "baseline": "alphabetic", "color": "black"},
   "encoding": {"text": {"field": "label", "type": "nominal"}, "x": {"datum": 1740.4, "type": "quantitative", "scale": {"domain": [1467, 2005], "nice": false, "zero": false}, "axis": null}, "y": {"datum": 5.29, "type": "quantitative", "scale": {"domain": [0, 7], "nice": false}, "axis": null}}}
 ]
},
{
 "width": 510, "height": 254.5,
 "resolve": {"axis": {"x": "independent", "y": "independent"}},
 "layer": [
  {"data": {"name": "bars"}, "transform": [{"filter": "datum.p === 4"}],
   "mark": {"type": "bar", "stroke": "black", "strokeWidth": 0.9},
   "encoding": {
    "x": {"field": "d", "type": "quantitative", "bin": {"step": 10, "extent": [1470, 2000]}, "scale": {"domain": [1467, 2005], "nice": false, "zero": false}, "axis": {"orient": "bottom", "values": [1480,1490,1500,1510,1520,1530,1540,1550,1560,1570,1580,1590,1600,1610,1620,1630,1640,1650,1660,1670,1680,1690,1700,1710,1720,1730,1740,1750,1760,1770,1780,1790,1800,1810,1820,1830,1840,1850,1860,1870,1880,1890,1900,1910,1920,1930,1940,1950,1960,1970,1980,1990,2000], "tickSize": 9, "labels": false, "title": null}},
    "y": {"field": "n", "type": "quantitative", "stack": "zero", "scale": {"domain": [0, 7], "nice": false}, "axis": {"orient": "left", "values": [0,1,2,3,4,5,6,7], "tickSize": 9, "labels": true, "labelPadding": 12, "title": null}},
    "fill": {"field": "c", "type": "nominal", "scale": {"domain": ["Extreme", "Severe", "Moderate"], "range": ["#707070", "#c8c8c8", "#f4f4f4"]},
      "legend": {"orient": "none", "legendX": 419, "legendY": 23, "title": null, "padding": 7, "strokeColor": "black", "fillColor": "white", "symbolType": "M-0.76,-1L0.76,-1L0.76,1L-0.76,1Z", "symbolSize": 81, "symbolStrokeColor": "black", "symbolStrokeWidth": 1, "labelFontSize": 11.5, "labelOffset": 5, "rowPadding": 6}},
    "order": {"field": "k", "type": "quantitative"}
   }},
  {"data": {"name": "lines"}, "transform": [{"filter": "datum.p === 4"}],
   "mark": {"type": "line", "strokeWidth": 2.8},
   "encoding": {
    "x": {"field": "d", "type": "quantitative", "scale": {"domain": [1467, 2005], "nice": false, "zero": false}, "axis": {"orient": "bottom", "values": [1500,1600,1700,1800,1900,2000], "format": "d", "tickSize": 17, "labels": true, "labelPadding": 9, "title": "Year (AD)", "titleFontSize": 23, "titlePadding": 9}},
    "y": {"field": "v", "type": "quantitative", "scale": {"domain": [0, 7], "nice": false}, "axis": {"orient": "right", "values": [0,1,2,3,4,5,6,7], "tickSize": 9, "labels": false, "title": null}},
    "stroke": {"field": "t", "type": "nominal", "scale": {"domain": ["m", "s"], "range": ["#5a2bb0", "#e8401e"]}, "legend": null}
   }},
  {"data": {"values": [{"label": "Flood"}]},
   "mark": {"type": "text", "font": "Liberation Sans", "fontSize": 23, "fontWeight": "bold", "fontStyle": "italic", "align": "left", "baseline": "alphabetic", "color": "black"},
   "encoding": {"text": {"field": "label", "type": "nominal"}, "x": {"datum": 1476.2, "type": "quantitative", "scale": {"domain": [1467, 2005], "nice": false, "zero": false}, "axis": null}, "y": {"datum": 5.79, "type": "quantitative", "scale": {"domain": [0, 7], "nice": false}, "axis": null}}},
  {"data": {"values": [{"label": "MLYRV"}]},
   "mark": {"type": "text", "font": "Liberation Sans", "fontSize": 23, "fontWeight": "bold", "align": "center", "baseline": "alphabetic", "color": "black"},
   "encoding": {"text": {"field": "label", "type": "nominal"}, "x": {"datum": 1740.4, "type": "quantitative", "scale": {"domain": [1467, 2005], "nice": false, "zero": false}, "axis": null}, "y": {"datum": 5.45, "type": "quantitative", "scale": {"domain": [0, 7], "nice": false}, "axis": null}}}
 ]
}
]
}
